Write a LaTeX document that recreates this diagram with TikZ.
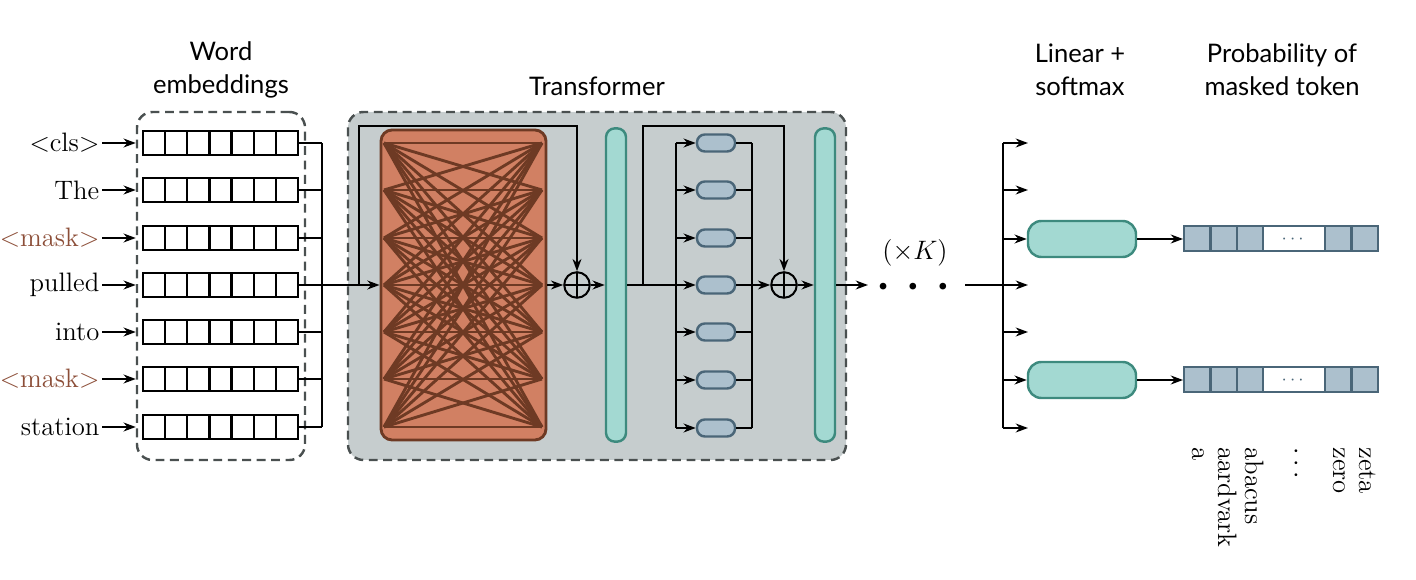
\documentclass[tikz,border=0pt]{standalone}
\usepackage{amsmath}
\usepackage{fontspec}
\newfontfamily\headfont{Lato}
\usetikzlibrary{
	arrows.meta,
	positioning,
	calc
}

\definecolor{boxgray}{HTML}{C6CDCE}
\definecolor{boxedge}{HTML}{4A5050}
\definecolor{attnfill}{HTML}{D18063}
\definecolor{attnedge}{HTML}{6E3A24}
\definecolor{lnfill}{HTML}{A3D9D2}
\definecolor{lnedge}{HTML}{3D8A7E}
\definecolor{fffill}{HTML}{ACC0CD}
\definecolor{ffedge}{HTML}{4A6678}
\definecolor{maskcol}{HTML}{8C4E38}

\begin{document}
\begin{tikzpicture}[
			x=0.45pt, y=-0.45pt,
			font=\large,
			>={Stealth[length=5.5pt, width=4pt]},
			fl/.style={->, line width=1.2pt},
			ln/.style={line width=1.2pt},
			head/.style={font=\headfont\fontsize{11.5}{15}\selectfont, align=center},
			dbox/.style={draw=boxedge, dash pattern=on 4pt off 2.5pt, line width=1.1pt, rounded corners=7pt, inner sep=0pt},
			emb/.style={draw, line width=1pt, fill=white, minimum width=9.96pt, minimum height=10.8pt, inner sep=0pt, outer sep=0pt},
			attn/.style={draw=attnedge, fill=attnfill, line width=1.3pt, rounded corners=5pt, minimum width=74.25pt, minimum height=139.5pt},
			norm/.style={draw=lnedge, fill=lnfill, line width=1.1pt, rounded corners=4pt, minimum width=9pt, minimum height=141pt, inner sep=0pt},
			ff/.style={draw=ffedge, fill=fffill, line width=1.1pt, rounded corners=3.5pt, minimum width=17.1pt, minimum height=7.65pt, inner sep=0pt},
			lin/.style={draw=lnedge, fill=lnfill, line width=1.1pt, rounded corners=6pt, minimum width=48.6pt, minimum height=16.2pt},
			prob/.style={draw=ffedge, fill=fffill, line width=0.9pt, minimum width=11.9pt, minimum height=11.25pt, inner sep=0pt, font=\footnotesize},
			addop/.style={draw, circle, line width=0.9pt, minimum size=11.5pt, inner sep=0pt,
				path picture={\draw[line width=0.9pt] (path picture bounding box.north) -- (path picture bounding box.south)
					(path picture bounding box.west) -- (path picture bounding box.east);}},
			tok/.style={anchor=east, inner sep=1pt},
			word/.style={rotate=-90, anchor=mid west, inner sep=0pt}
		]

		\useasboundingbox (0,0) rectangle (1416,580);

		% boxes and titles
		\node[dbox, minimum width=75.6pt, minimum height=156.6pt] (wemb) at (221,286) {};
		\node[dbox, fill=boxgray, minimum width=224.1pt, minimum height=156.6pt] (trf) at (597,286) {};
		\node[head] (hw) at (221,70) {Word\\embeddings};
		\node[head] (ht) at (597,86) {Transformer};
		\node[head] (hl) at (1080,70) {Linear +\\softmax};
		\node[head] (hp) at (1282,70) {Probability of\\masked token};

		% tokens and embeddings
		\foreach \y/\tok [count=\i] in {143/{$<$cls$>$}, 190/The, 238/{\color{maskcol}$<$mask$>$}, 285/pulled, 332/into, 379/{\color{maskcol}$<$mask$>$}, 427/station} {
			\node[tok] (t\i) at (102,\y) {\tok};
			\foreach \j in {1,...,7} {
				\node[emb] (e\i-\j) at ({143+22.14*(\j-0.5)},\y) {};
			}
			\draw[fl] (t\i.east) -- (t\i.east -| wemb.west);
			\coordinate (l\i) at (384,\y);
			\coordinate (r\i) at (542,\y);
		}
		\coordinate (bus) at (322,143);
		\coordinate (busb) at (322,427);
		\foreach \i in {1,...,7} {
			\draw[ln] (e\i-7.east) -- (e\i-7.east -| bus);
		}
		\draw[ln] (bus) -- (busb);

		% self-attention
		\node[attn] (attn) at (463.5,285) {};
		\foreach \i in {1,...,7} {
			\foreach \j in {1,...,7} {
				\draw[attnedge, line width=1.3pt] (l\i) -- (r\j);
			}
		}
		\node[addop] (plus1) at (577,285) {};
		\node[norm] (ln1) at (616,285) {};
		\coordinate (top) at (0,126);
		\coordinate (s1) at (359,285);
		\draw[fl] (e4-7.east -| bus) -- (attn);
		\draw[fl] (s1) |- (top -| plus1) -- (plus1);
		\draw[fl] (attn) -- (plus1);
		\draw[fl] (plus1) -- (ln1);

		% feed-forward
		\foreach \y [count=\i] in {143,190,238,285,332,380,428} {
			\node[ff] (f\i) at (716,\y) {};
		}
		\coordinate (fbus) at (676,143);
		\coordinate (fbus2) at (752,143);
		\node[addop] (plus2) at (784,285) {};
		\node[norm] (ln2) at (825,285) {};
		\coordinate (s2) at (643,285);
		\coordinate (kin) at (868,285);
		\draw[ln] (ln1) -- (f4 -| fbus);
		\draw[ln] (f1 -| fbus) -- (f7 -| fbus);
		\draw[ln] (f1 -| fbus2) -- (f7 -| fbus2);
		\foreach \i in {1,...,7} {
			\draw[fl] (f\i -| fbus) -- (f\i);
			\draw[ln] (f\i) -- (f\i -| fbus2);
		}
		\draw[fl] (s2) |- (top -| plus2) -- (plus2);
		\draw[fl] (f4 -| fbus2) -- (plus2);
		\draw[fl] (plus2) -- (ln2);
		\draw[fl] (ln2) -- (kin);

		% repeat K times
		\node (times) at (915,253) {$(\times K)$};
		\node (dots) at (913,287) {\scriptsize$\bullet\hspace{7.5pt}\bullet\hspace{7.5pt}\bullet$};
		\coordinate (kout) at (965,285);
		\coordinate (obus) at (1003,143);
		\coordinate (obusb) at (1003,428);
		\draw[ln] (kout) -- (kout -| obus);
		\draw[ln] (obus) -- (obusb);
		\foreach \y [count=\i] in {143,190,238,285,332,380,428} {
			\coordinate (o\i) at (1028,\y);
		}
		\foreach \i in {1,2,4,5,7} {
			\draw[fl] (o\i -| obus) -- (o\i);
		}

		% linear + softmax, probabilities
		\foreach \r/\y in {1/239, 2/380} {
			\node[lin] (lin\r) at (1082,\y) {};
			\draw[fl] (lin\r -| obus) -- (lin\r);
			\foreach \x [count=\j] in {1197.25,1223.75,1250.25} {
				\node[prob] (p\r-\j) at (\x,\y) {};
			}
			\node[prob, fill=white, minimum width=27.7pt] (p\r-4) at (1294.25,\y) {\color{ffedge}$\cdots$};
			\node[prob] (p\r-5) at (1338.25,\y) {};
			\node[prob] (p\r-6) at (1364.75,\y) {};
			\draw[fl] (lin\r) -- (p\r-1);
		}
		\foreach \x/\w [count=\j] in {1197.25/a, 1223.75/aardvark, 1250.25/abacus, 1294.25/{$\cdots$}, 1338.25/zero, 1364.75/zeta} {
			\node[word] (v\j) at (\x,447) {\w};
		}
	\end{tikzpicture}
\end{document}
